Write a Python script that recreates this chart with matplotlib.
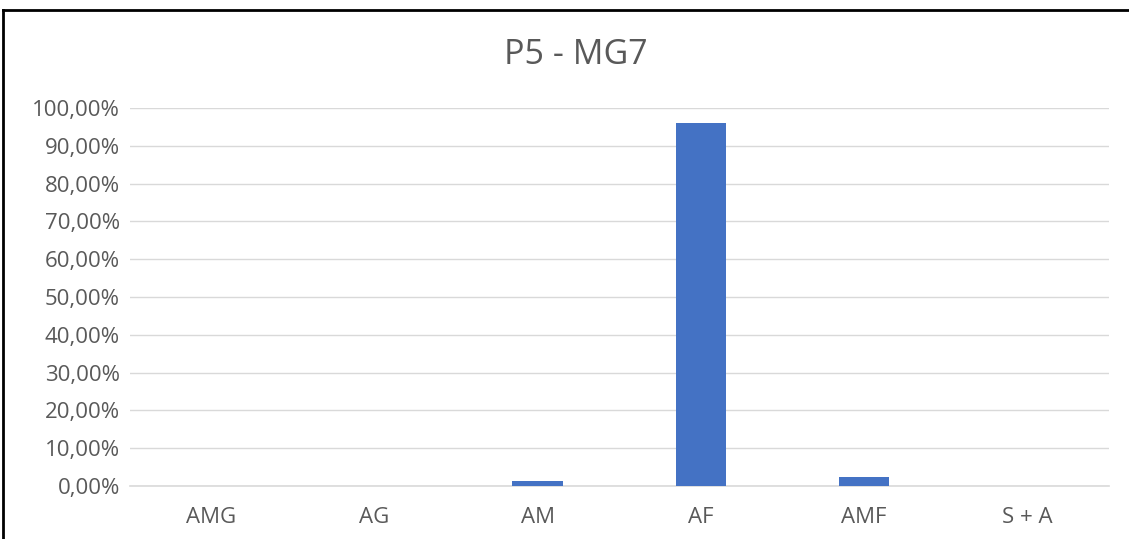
import matplotlib
matplotlib.use("Agg")
import matplotlib.pyplot as plt
from matplotlib.lines import Line2D
from matplotlib.ticker import FuncFormatter, MultipleLocator
import numpy as np

categories = ["AMG", "AG", "AM", "AF", "AMF", "S + A"]
values = [0.0, 0.0, 1.25, 96.0, 2.45, 0.1]

plt.rcParams["font.family"] = ["Open Sans", "DejaVu Sans"]

fig = plt.figure(figsize=(11.29, 5.39), dpi=100)
ax = fig.add_axes([0.115, 0.0983, 0.867, 0.7013])

x = np.arange(len(categories))
ax.bar(x, values, width=0.31, color="#4472C4", zorder=3)

ax.set_xlim(-0.5, len(categories) - 0.5)
ax.set_ylim(0, 100)
ax.yaxis.set_major_locator(MultipleLocator(10))
ax.yaxis.set_major_formatter(FuncFormatter(lambda v, _: f"{v:.2f}%".replace(".", ",")))
ax.set_xticks(x, categories)
ax.tick_params(axis="both", length=0, labelsize=16, colors="#595959")
ax.tick_params(axis="x", pad=15)
ax.tick_params(axis="y", pad=7)
ax.grid(axis="y", color="#d9d9d9", linewidth=1, zorder=0)
for side in ["top", "right", "left"]:
    ax.spines[side].set_visible(False)
ax.spines["bottom"].set_color("#d9d9d9")
ax.spines["bottom"].set_linewidth(1.2)

fig.text(576 / 1129, 1 - 55 / 539, "P5 - MG7", ha="center", va="center",
         fontsize=24.5, color="#595959")

# outer border of the chart area
fig.add_artist(Line2D([3 / 1129, 1], [1 - 10 / 539, 1 - 10 / 539],
                      transform=fig.transFigure, color="black", linewidth=2))
fig.add_artist(Line2D([3 / 1129, 3 / 1129], [0, 1 - 10 / 539],
                      transform=fig.transFigure, color="black", linewidth=2))

plt.savefig("out.png", dpi=100)
plt.close()
